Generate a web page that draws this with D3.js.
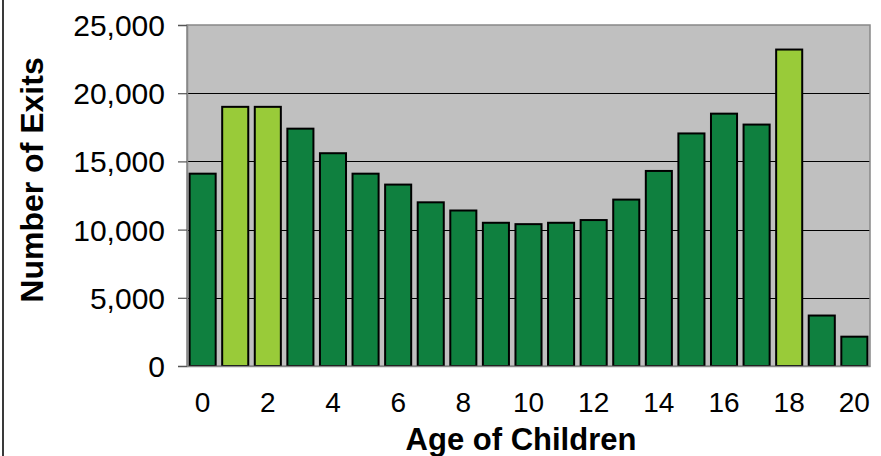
<!DOCTYPE html>
<html>
<head>
<meta charset="utf-8">
<script src="https://cdn.jsdelivr.net/npm/d3@7"></script>
<style>
  html, body { margin: 0; padding: 0; background: #fff; }
  svg { display: block; font-family: "Liberation Sans", Arial, sans-serif; }
</style>
</head>
<body>
<svg id="chart" width="881" height="456"></svg>
<script>
const ages = [0,1,2,3,4,5,6,7,8,9,10,11,12,13,14,15,16,17,18,19,20];
const exits = [14100,19000,19000,17400,15600,14100,13300,12000,11400,10500,10400,10500,10700,12200,14300,17050,18500,17700,23200,3700,2150];
const highlighted = [1,2,18];
const yTicks = [0,5000,10000,15000,20000,25000];
const xTickLabels = [0,2,4,6,8,10,12,14,16,18,20];
const yTitle = "Number of Exits";
const xTitle = "Age of Children";

(function () {
const svg = d3.select("#chart");
const pLeft = 187, pRight = 870, pTop = 25, pBottom = 366;

const x = d3.scaleBand().domain(ages).range([pLeft, pRight]).paddingInner(0.2).paddingOuter(0.08);
const y = d3.scaleLinear().domain([0, 25000]).range([pBottom, pTop]);

// outer frame left edge
svg.append("rect").attr("x", 2).attr("y", 0).attr("width", 2).attr("height", 456).attr("fill", "#3a3a3a");

// plot background
svg.append("rect").attr("x", pLeft).attr("y", pTop).attr("width", pRight - pLeft).attr("height", pBottom - pTop)
  .attr("fill", "#c0c0c0");

// gridlines
svg.append("g").selectAll("line").data(yTicks.filter(d => d > 0 && d < 25000)).join("line")
  .attr("x1", pLeft).attr("x2", pRight)
  .attr("y1", d => Math.round(y(d)) + 0.5).attr("y2", d => Math.round(y(d)) + 0.5)
  .attr("stroke", "#000").attr("stroke-width", 1.2);

// plot border
svg.append("rect").attr("x", pLeft).attr("y", pTop).attr("width", pRight - pLeft).attr("height", pBottom - pTop)
  .attr("fill", "none").attr("stroke", "#888").attr("stroke-width", 1.5);

// bars
svg.append("g").selectAll("rect").data(ages).join("rect")
  .attr("x", d => x(d))
  .attr("y", (d, i) => y(exits[i]))
  .attr("width", x.bandwidth())
  .attr("height", (d, i) => y(0) - y(exits[i]))
  .attr("fill", d => highlighted.includes(d) ? "#99cb39" : "#0f803f")
  .attr("stroke", "#000").attr("stroke-width", 2);

// y axis
const yAxis = d3.axisLeft(y).tickValues(yTicks).tickSize(9).tickPadding(13).tickFormat(d3.format(","));
const gy = svg.append("g").attr("transform", `translate(${pLeft},0)`).call(yAxis);
gy.select(".domain").attr("stroke", "#888").attr("stroke-width", 1.5);
gy.selectAll(".tick line").attr("stroke", "#555").attr("stroke-width", 1.2);
gy.selectAll(".tick text").attr("font-size", 30).attr("fill", "#000")
  .attr("font-family", "'Liberation Sans', Arial, sans-serif").attr("dy", "0.35em");

// x axis
const xAxis = d3.axisBottom(x).tickValues(xTickLabels).tickSize(0).tickPadding(46);
const gx = svg.append("g").attr("transform", `translate(0,${pBottom})`).call(xAxis);
gx.select(".domain").attr("stroke", "#888").attr("stroke-width", 1.5);
gx.selectAll(".tick text").attr("font-size", 28).attr("fill", "#000")
  .attr("font-family", "'Liberation Sans', Arial, sans-serif").attr("dy", 0);

// titles
svg.append("text").attr("x", 521).attr("y", 450).attr("text-anchor", "middle")
  .attr("font-size", 31).attr("font-weight", "bold").text(xTitle);
svg.append("text").attr("transform", "translate(43,180) rotate(-90)").attr("text-anchor", "middle")
  .attr("font-size", 32).attr("font-weight", "bold").text(yTitle);
})();
</script>
</body>
</html>
